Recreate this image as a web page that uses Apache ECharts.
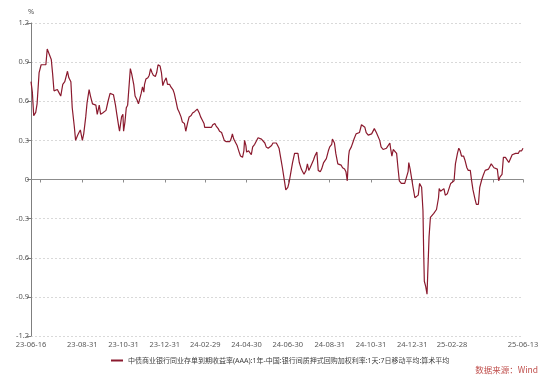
<!DOCTYPE html>
<html><head><meta charset="utf-8">
<script src="https://cdn.jsdelivr.net/npm/echarts@6/dist/echarts.min.js"></script>
<style>html,body{margin:0;padding:0;background:#fff}#c{width:554px;height:383px}</style>
</head><body><div id="c"></div>
<script>
const startDate = '2023-06-16';
const endDate = '2025-06-13';
// days since startDate
const dayOffsets = [
0,2,4,7,9,12,15,17,19,22,24,27,30,32,34,36,39,41,44,47,50,54,56,59,61,64,66,69,71,73,76,78,81,83,86,88,91,93,96,98,101,103,106,108,111,114,117,119,
122,125,127,130,131,134,136,137,139,141,143,144,147,149,152,154,157,159,161,163,165,167,168,170,173,175,177,179,181,184,186,188,191,193,195,197,200,202,205,207,210,212,215,217,219,222,224,227,229,232,234,237,239,242,244,
246,249,251,253,256,257,259,262,264,267,269,272,274,277,279,282,284,286,289,291,294,296,298,300,303,305,308,310,313,315,316,318,319,322,324,326,328,331,333,336,338,341,343,346,348,351,353,356,358,360,363,365,
367,370,372,375,377,380,382,385,387,390,392,395,397,400,402,404,407,409,411,413,415,418,420,423,425,428,430,433,435,437,440,442,445,446,449,451,454,456,459,461,464,466,468,470,471,474,476,478,481,483,486,
489,491,494,496,499,501,504,506,508,511,513,516,518,521,523,526,528,531,532,534,536,538,541,543,545,548,550,553,555,558,559,561,563,565,568,570,573,575,577,578,580,581,582,584,586,587,589,591,593,596,598,600,603,604,606,608,
611,613,616,618,621,623,626,628,631,633,635,637,640,642,645,647,650,652,654,657,659,662,664,667,669,672,674,677,679,681,683,685,687,690,692,694,697,699,702,704,707,709,712,714,717,718,721,723,726,728
];
const values = [
0.75,0.67,0.49,0.515,0.58,0.82,0.88,0.89,0.88,0.88,1.00,0.96,0.92,0.81,0.68,0.68,0.69,0.67,0.64,0.73,0.75,0.83,0.78,0.75,0.55,0.41,0.30,0.34,0.36,0.38,0.30,0.35,0.48,0.59,0.69,0.64,0.58,0.58,0.57,0.50,0.57,0.50,0.51,0.52,0.53,0.60,0.66,0.67,
0.65,0.57,0.50,0.40,0.37,0.48,0.50,0.37,0.44,0.55,0.57,0.57,0.85,0.81,0.73,0.64,0.61,0.58,0.62,0.66,0.71,0.67,0.73,0.77,0.78,0.80,0.85,0.82,0.80,0.79,0.82,0.88,0.87,0.82,0.72,0.75,0.78,0.73,0.73,0.71,0.69,0.66,0.59,0.54,0.52,0.48,0.44,0.43,0.37,0.44,0.48,0.49,0.51,0.52,0.53,
0.54,0.51,0.48,0.46,0.43,0.40,0.41,0.40,0.41,0.40,0.42,0.43,0.41,0.39,0.37,0.36,0.35,0.30,0.29,0.30,0.29,0.31,0.35,0.31,0.28,0.26,0.21,0.18,0.17,0.22,0.30,0.26,0.21,0.22,0.21,0.19,0.25,0.27,0.28,0.32,0.32,0.31,0.31,0.28,0.25,0.24,0.24,0.26,0.28,0.29,0.28,0.26,
0.24,0.15,0.09,-0.01,-0.08,-0.06,-0.02,0.07,0.13,0.20,0.21,0.20,0.13,0.08,0.06,0.04,0.07,0.12,0.07,0.09,0.10,0.15,0.18,0.21,0.07,0.06,0.08,0.13,0.14,0.16,0.22,0.25,0.27,0.31,0.28,0.20,0.12,0.11,0.11,0.09,0.08,0.06,-0.01,0.18,0.22,0.25,0.28,0.31,0.35,0.34,0.36,
0.42,0.42,0.40,0.36,0.34,0.34,0.35,0.36,0.39,0.36,0.36,0.30,0.25,0.23,0.24,0.24,0.25,0.28,0.24,0.18,0.23,0.22,0.20,0.09,-0.01,-0.03,-0.03,-0.03,-0.02,0.06,0.13,0.08,0.08,-0.05,-0.14,-0.14,-0.12,-0.03,-0.02,-0.06,-0.24,-0.55,-0.78,-0.82,-0.88,-0.73,-0.44,-0.29,-0.28,-0.26,-0.25,-0.23,-0.14,-0.07,-0.09,-0.08,
-0.07,-0.12,-0.11,-0.12,-0.03,-0.02,-0.01,0.12,0.20,0.24,0.22,0.18,0.18,0.15,0.09,0.07,0.07,-0.01,-0.08,-0.15,-0.19,-0.19,-0.06,0.00,0.03,0.07,0.07,0.08,0.10,0.12,0.11,0.09,0.09,0.08,-0.01,0.02,0.04,0.17,0.17,0.16,0.13,0.13,0.19,0.20,0.20,0.21,0.20,0.22,0.22,0.24
];
const tickDates = ['2023-06-30','2023-08-31','2023-10-31','2023-12-31','2024-02-29','2024-04-30','2024-06-30','2024-08-31','2024-10-31','2024-12-31','2025-02-28','2025-04-30','2025-06-13'];
const labelDates = ['2023-06-16','2023-08-31','2023-10-31','2023-12-31','2024-02-29','2024-04-30','2024-06-30','2024-08-31','2024-10-31','2024-12-31','2025-02-28','2025-06-13'];
const seriesName = '中债商业银行同业存单到期收益率(AAA):1年-中国:银行间质押式回购加权利率:1天:7日移动平均:算术平均';
const yUnit = '%';
const sourceText = '数据来源：Wind';

const DAY = 86400000;
const t0 = Date.parse(startDate);
const data = dayOffsets.map((d, i) => [t0 + d * DAY, values[i]]);
const pad = n => (n < 10 ? '0' : '') + n;
const fmt = v => { const d = new Date(v); return pad(d.getUTCFullYear() % 100) + '-' + pad(d.getUTCMonth() + 1) + '-' + pad(d.getUTCDate()); };
const FONT = "'Noto Sans', 'Noto Sans CJK SC', sans-serif";
const axisColor = '#8c8c8c';
const textColor = '#595959';

const chart = echarts.init(document.getElementById('c'), null, {renderer: 'canvas'});
chart.setOption({
  animation: false,
  backgroundColor: '#ffffff',
  grid: {left: 31, right: 31, top: 23, bottom: 47},
  xAxis: {
    type: 'value',
    min: Date.parse(startDate),
    max: Date.parse(endDate),
    axisLine: {show: true, lineStyle: {color: axisColor, width: 1}},
    axisTick: {show: true, length: 3, lineStyle: {color: axisColor}, customValues: tickDates.map(s => Date.parse(s))},
    axisLabel: {
      show: true, color: textColor, fontSize: 7.5, fontFamily: FONT, margin: 5,
      customValues: labelDates.map(s => Date.parse(s)),
      formatter: v => fmt(v),
      hideOverlap: false, showMinLabel: true, showMaxLabel: true
    },
    splitLine: {show: false}
  },
  yAxis: {
    type: 'value',
    min: -1.2, max: 1.2, interval: 0.3,
    name: yUnit,
    nameLocation: 'end',
    nameGap: 7,
    nameTextStyle: {color: textColor, fontSize: 7.5, fontFamily: FONT, align: 'center'},
    axisLine: {show: true, lineStyle: {color: '#7f7f7f', width: 1}},
    axisTick: {show: true, length: 4, lineStyle: {color: '#7f7f7f'}},
    axisLabel: {color: textColor, fontSize: 7.5, fontFamily: FONT, margin: 2,
      formatter: v => String(Math.round(v * 10) / 10)},
    splitLine: {show: true, lineStyle: {color: '#d9d9d9', type: [2, 2], width: 1}}
  },
  legend: {
    left: 106, top: 352,
    icon: 'rect', itemWidth: 12, itemHeight: 2, itemGap: 4,
    textStyle: {color: '#404040', fontSize: 7, fontFamily: FONT},
    data: [seriesName]
  },
  graphic: [{
    type: 'text', right: 16, top: 366,
    style: {text: sourceText, fill: '#c0504d', font: "8.5px 'Noto Sans CJK SC', sans-serif"}
  }],
  series: [{
    name: seriesName,
    type: 'line',
    data: data,
    showSymbol: false,
    symbol: 'none',
    lineStyle: {color: '#8B1A2E', width: 1.2},
    itemStyle: {color: '#8B1A2E'}
  }]
});
</script>
</body></html>
